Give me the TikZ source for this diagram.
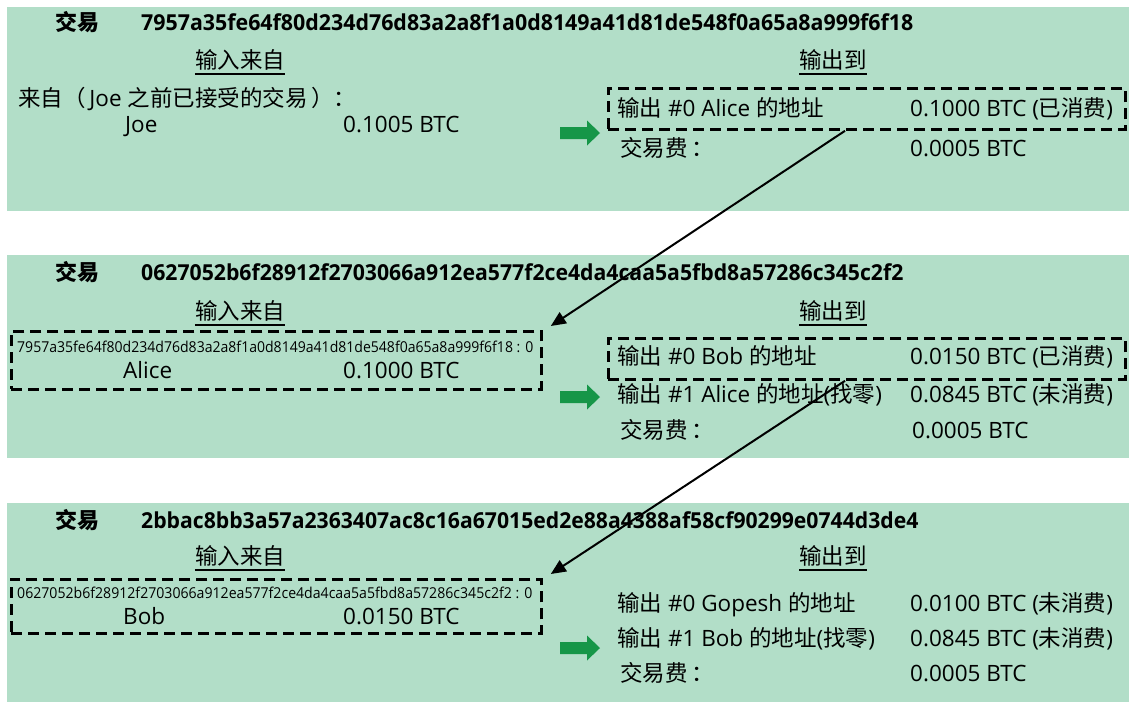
\documentclass[tikz,border=0pt]{standalone}
\usepackage{fontspec}
\usepackage{graphicx}
\setmainfont{Open Sans}
\newfontfamily\cjk{Noto Sans CJK SC}
\usetikzlibrary{arrows.meta}
\definecolor{panelgreen}{RGB}{178,222,200}
\definecolor{arrowgreen}{RGB}{22,150,72}
\newcommand\zh[1]{{\cjk #1}}
\newsavebox\hashbox
\newcommand\fitw[2]{\sbox\hashbox{#2}\scalebox{\fpeval{(#1)/(\the\wd\hashbox)}}[1]{\usebox\hashbox}}
\tikzset{
  panel/.style={fill=panelgreen, draw=none},
  txt/.style={anchor=base west, inner sep=0pt, font=\fontsize{22.5}{26}\selectfont},
  ctxt/.style={anchor=base, inner sep=0pt, font=\fontsize{22.5}{26}\selectfont},
  hashtxt/.style={anchor=base west, inner sep=0pt, font=\fontsize{22}{26}\selectfont\bfseries},
  smallhash/.style={anchor=base west, inner sep=0pt, font=\fontsize{15}{18}\selectfont},
  dbox/.style={draw=black, line width=2.8pt, dash pattern=on 11pt off 6pt, inner sep=0pt, anchor=north west},
  uline/.style={line width=2.4pt},
  link/.style={line width=2pt, -{Triangle[length=15pt,width=13pt]}},
  garrow/.style={fill=arrowgreen}
}
\newcommand\greenarrow[1]{%
  \fill[garrow] ([shift={(-20pt,6pt)}]#1) -- ([shift={(7pt,6pt)}]#1) -- ([shift={(7pt,12.5pt)}]#1)
    -- ([shift={(20pt,0pt)}]#1) -- ([shift={(7pt,-12.5pt)}]#1) -- ([shift={(7pt,-6pt)}]#1)
    -- ([shift={(-20pt,-6pt)}]#1) -- cycle;}
\begin{document}
\begin{tikzpicture}[x=1pt,y=-1pt]
\useasboundingbox (0,0) rectangle (1129,702);
% panels
\fill[panel] (7,7) rectangle (1129,211);
\fill[panel] (7,255) rectangle (1129,458);
\fill[panel] (7,503) rectangle (1129,702);

% ---------- panel 1
\node[hashtxt] (k1) at (55,30) {\zh{交易}};
\node[hashtxt] (h1) at (141,30) {\fitw{772}{7957a35fe64f80d234d76d83a2a8f1a0d8149a41d81de548f0a65a8a999f6f18}};
\node[ctxt] (in1) at (240,68) {\zh{输入来自}};
\draw[uline] ([yshift=-6pt]in1.base west) -- ([yshift=-6pt]in1.base east);
\node[ctxt] (out1) at (833,68) {\zh{输出到}};
\draw[uline] ([yshift=-6pt]out1.base west) -- ([yshift=-6pt]out1.base east);
\node[txt] (from1) at (18,106) {\zh{来自（}\,Joe \zh{之前已接受的交易}\,\zh{）：}};
\node[txt] (joe) at (125,132) {Joe};
\node[txt] (amt1) at (343,132) {0.1005 BTC};
\coordinate (ga1) at (580,133);
\greenarrow{ga1}
\node[dbox, minimum width=517pt, minimum height=41pt] (ob1) at (607,87) {};
\node[txt] (o10) at (617,116) {\zh{输出} \#0 Alice \zh{的地址}};
\node[txt] (v10) at (910,116) {0.1000 BTC (\zh{已消费})};
\node[txt] (f1) at (620,156) {\zh{交易费}\,\zh{：}};
\node[txt] (fv1) at (910,156) {0.0005 BTC};

% ---------- panel 2
\node[hashtxt] (k2) at (55,280) {\zh{交易}};
\node[hashtxt] (h2) at (141,280) {\fitw{762}{0627052b6f28912f2703066a912ea577f2ce4da4caa5a5fbd8a57286c345c2f2}};
\node[ctxt] (in2) at (240,319) {\zh{输入来自}};
\draw[uline] ([yshift=-6pt]in2.base west) -- ([yshift=-6pt]in2.base east);
\node[ctxt] (out2) at (833,319) {\zh{输出到}};
\draw[uline] ([yshift=-6pt]out2.base west) -- ([yshift=-6pt]out2.base east);
\node[dbox, minimum width=530pt, minimum height=58pt] (ib2) at (10,330) {};
\node[smallhash] (sh2) at (17,352) {\fitw{516}{7957a35fe64f80d234d76d83a2a8f1a0d8149a41d81de548f0a65a8a999f6f18 : 0}};
\node[txt] (alice) at (123,378) {Alice};
\node[txt] (amt2) at (343,378) {0.1000 BTC};
\coordinate (ga2) at (580,397);
\greenarrow{ga2}
\node[dbox, minimum width=517pt, minimum height=41pt] (ob2) at (607,337) {};
\node[txt] (o20) at (617,364) {\zh{输出} \#0 Bob \zh{的地址}};
\node[txt] (v20) at (910,364) {0.0150 BTC (\zh{已消费})};
\node[txt] (o21) at (617,402) {\zh{输出} \#1 Alice \zh{的地址}(\zh{找零})};
\node[txt] (v21) at (910,402) {0.0845 BTC (\zh{未消费})};
\node[txt] (f2) at (620,438) {\zh{交易费}\,\zh{：}};
\node[txt] (fv2) at (912,438) {0.0005 BTC};

% ---------- panel 3
\node[hashtxt] (k3) at (55,528) {\zh{交易}};
\node[hashtxt] (h3) at (141,528) {\fitw{777}{2bbac8bb3a57a2363407ac8c16a67015ed2e88a4388af58cf90299e0744d3de4}};
\node[ctxt] (in3) at (240,564) {\zh{输入来自}};
\draw[uline] ([yshift=-6pt]in3.base west) -- ([yshift=-6pt]in3.base east);
\node[ctxt] (out3) at (833,564) {\zh{输出到}};
\draw[uline] ([yshift=-6pt]out3.base west) -- ([yshift=-6pt]out3.base east);
\node[dbox, minimum width=530pt, minimum height=54pt] (ib3) at (10,578) {};
\node[smallhash] (sh3) at (17,598) {\fitw{515}{0627052b6f28912f2703066a912ea577f2ce4da4caa5a5fbd8a57286c345c2f2 : 0}};
\node[txt] (bob) at (123,624) {Bob};
\node[txt] (amt3) at (343,624) {0.0150 BTC};
\coordinate (ga3) at (580,648);
\greenarrow{ga3}
\node[txt] (o30) at (617,611) {\zh{输出} \#0 Gopesh \zh{的地址}};
\node[txt] (v30) at (910,611) {0.0100 BTC (\zh{未消费})};
\node[txt] (o31) at (617,646) {\zh{输出} \#1 Bob \zh{的地址}(\zh{找零})};
\node[txt] (v31) at (910,646) {0.0845 BTC (\zh{未消费})};
\node[txt] (f3) at (620,681) {\zh{交易费}\,\zh{：}};
\node[txt] (fv3) at (910,681) {0.0005 BTC};

% ---------- links
\draw[link] ([xshift=238pt]ob1.south west) -- ([xshift=8pt,yshift=4pt]ib2.north east);
\draw[link] ([xshift=238pt]ob2.south west) -- ([xshift=8pt,yshift=4pt]ib3.north east);
\end{tikzpicture}
\end{document}
